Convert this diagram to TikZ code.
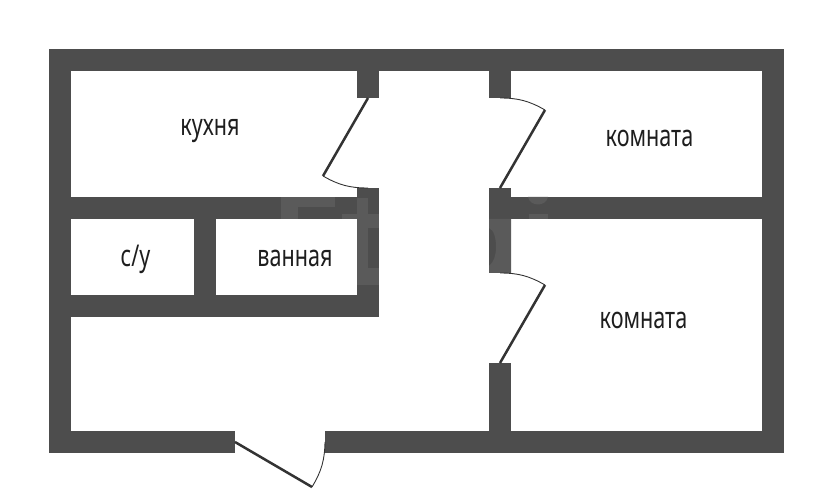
\documentclass[tikz,border=0pt]{standalone}
\usepackage{fontspec}
\setmainfont[FakeStretch=0.72]{Noto Sans}
\definecolor{wallc}{HTML}{4D4D4D}
\definecolor{tracec}{HTML}{5A5A5A}
\definecolor{leafc}{HTML}{333333}
\definecolor{labelc}{HTML}{1E1E1E}
\tikzset{
  wall/.style={fill=wallc,draw=none},
  trace/.style={fill=tracec,draw=none},
  leaf/.style={draw=leafc,line width=2.5pt},
  swing/.style={draw=leafc,line width=0.9pt},
  roomlabel/.style={text=labelc,font=\fontsize{30}{32}\selectfont,inner sep=0pt,anchor=base}
}
\begin{document}
\begin{tikzpicture}[x=1pt,y=-1pt]
\useasboundingbox (0,0) rectangle (833,502);
% walls
\fill[wall] (49,49) rectangle (784,71);
\fill[wall] (49,49) rectangle (71,453);
\fill[wall] (762,49) rectangle (784,453);
\fill[wall] (49,431) rectangle (235,453);
\fill[wall] (325,431) rectangle (784,453);
\fill[wall] (357,71) rectangle (379,98);
\fill[wall] (489,71) rectangle (511,98);
\fill[wall] (71,197) rectangle (379,219);
\fill[wall] (357,188) rectangle (379,317);
\fill[wall] (49,295) rectangle (379,317);
\fill[wall] (194,219) rectangle (216,295);
\fill[wall] (489,188) rectangle (511,273);
\fill[wall] (511,197) rectangle (762,219);
\fill[wall] (489,363) rectangle (511,431);
% watermark traces on the walls
\fill[trace] (281,197) rectangle (335,207);
\fill[trace] (281,207) rectangle (298,219);
\fill[trace] (342,214) rectangle (379,219);
\fill[trace] (357,198) rectangle (368,285);
\fill[trace] (368,219) rectangle (379,228);
\fill[trace] (368,268) rectangle (379,285);
\fill[trace] (489,219) -- (511,219) -- (511,273) -- (489,273) -- (489,266)
  .. controls (494,262) and (496,255) .. (496,247)
  .. controls (496,238) and (494,230) .. (489,228) -- cycle;
\fill[trace] (528,197) .. controls (530,207) and (546,207) .. (548,197) -- cycle;
\fill[trace] (529,214) rectangle (548,219);
% doors
\coordinate (k1) at (368,98);
\coordinate (k2) at (323,176);
\coordinate (k3) at (368,188);
\coordinate (t1) at (500,188);
\coordinate (t2) at (545,110);
\coordinate (t3) at (500,98);
\coordinate (b1) at (500,363);
\coordinate (b2) at (545,285);
\coordinate (b3) at (500,273);
\coordinate (e1) at (235,442);
\coordinate (e2) at (312,487);
\coordinate (e3) at (325,442);
\draw[leaf] (k1) -- (k2);
\draw[swing] (k2) to[bend right=15] (k3);
\draw[leaf] (t1) -- (t2);
\draw[swing] (t3) to[bend left=15] (t2);
\draw[leaf] (b1) -- (b2);
\draw[swing] (b3) to[bend left=15] (b2);
\draw[leaf] (e1) -- (e2);
\draw[swing] (e2) to[bend right=15] (e3);
% labels
\node[roomlabel] (kitchen) at (210,136) {кухня};
\node[roomlabel] (room1) at (649.5,146.5) {комната};
\node[roomlabel] (wc) at (135.5,267) {с/у};
\node[roomlabel] (bath) at (295,267) {ванная};
\node[roomlabel] (room2) at (643.5,329) {комната};
\end{tikzpicture}
\end{document}
